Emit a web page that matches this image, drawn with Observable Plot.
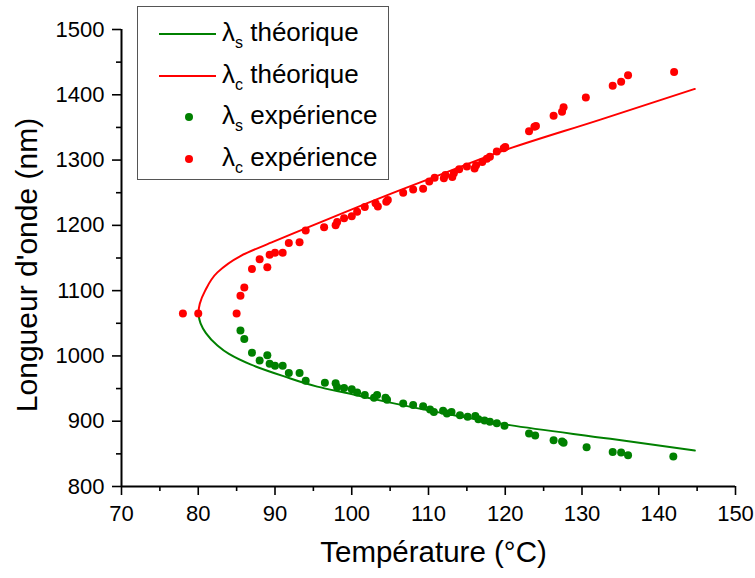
<!DOCTYPE html>
<html><head><meta charset="utf-8">
<script src="https://cdn.jsdelivr.net/npm/d3@7"></script>
<script src="https://cdn.jsdelivr.net/npm/@observablehq/plot@0.6"></script>
<style>
body{margin:0;background:#fff;font-family:"Liberation Sans",Arial,sans-serif;}
#wrap{position:relative;width:755px;height:578px;}
#legend{position:absolute;left:137px;top:6px;width:252px;height:174px;border:1.5px solid #555;background:#fff;box-sizing:border-box;}
.row{position:absolute;left:0;width:250px;height:40px;}
.ln{position:absolute;left:21px;width:57px;top:19px;height:0;border-top:2px solid;}
.dt{position:absolute;left:47px;top:16px;width:8px;height:8px;border-radius:50%;}
.tx{position:absolute;left:84px;top:4px;font-size:26px;line-height:28px;white-space:nowrap;color:#000;}
.tx sub{font-size:16px;vertical-align:-7px;line-height:0;}
</style></head>
<body><div id="wrap"></div>
<script>
// Tick values
const xTicks=[70,80,90,100,110,120,130,140,150];
const xMinorTicks=[75,85,95,105,115,125,135,145];
const yTicks=[800,900,1000,1100,1200,1300,1400,1500];
const yMinorTicks=[850,950,1050,1150,1250,1350,1450];
const xTitle=["Température (°C)"];
const yTitle=["Longueur d'onde (nm)"];

// Theoretical curves, ordered by wavelength
const theoS_T=[144.7,133.7,120.6,112,104.4,99.8,95.5,91.1,86.8,84,82.5,81,80.3,80];
const theoS_L=[855,873,894,912,930,942,953,969,987,1003,1016,1035,1050,1065];
const theoC_T=[80,80.2,80.9,82.5,85.5,89.8,93.5,97.0,106.3,110.3,119.4,132.4,144.7];
const theoC_L=[1065,1080,1100,1128,1153,1175,1193,1210,1254,1272,1313,1362,1409];

// Experimental lambda_s
const expS_T=[85.5,86.0,87.0,88.0,89.0,89.3,90.0,91.0,91.8,93.2,94.0,96.5,97.9,98.1,99.0,100.0,100.7,101.7,102.9,103.3,104.4,104.6,106.7,108.0,109.3,110.2,110.7,111.9,112.4,113.0,114.1,115.1,116.1,116.5,117.3,118.0,118.9,119.9,123.1,123.9,126.3,127.4,127.6,130.6,134.0,135.1,136.0,141.9];
const expS_L=[1039,1026,1005,993,1001,988,985,985,974,974,962,959,958,952,951,949,944,940,936,940,936,933,927,925,923,918,914,916,912,914,909,907,908,903,901,899,897,893,881,878,871,869,867,860,853,852,848,846];

// Experimental lambda_c
const expC_T=[78.0,80.0,85.0,85.5,86.0,87.0,88.0,89.0,89.3,90.0,91.0,91.8,93.2,94.0,96.4,97.9,98.1,99.0,100.0,100.7,101.7,103.1,103.4,104.5,104.7,106.7,108.0,109.3,110.1,110.8,112.0,112.2,113.1,113.3,114.0,115.0,116.0,116.2,117.0,117.6,118.0,118.9,119.8,120.0,123.1,123.8,124.0,126.3,127.4,127.6,130.5,134.0,135.1,136.0,142.0];
const expC_L=[1065,1065,1065,1092,1105,1133,1148,1136,1155,1158,1158,1173,1174,1192,1197,1200,1205,1211,1214,1221,1228,1234,1229,1236,1239,1250,1255,1256,1267,1273,1272,1277,1274,1280,1286,1290,1287,1292,1297,1302,1305,1313,1318,1320,1344,1351,1352,1368,1374,1381,1396,1414,1420,1430,1435];

const toRows=(T,L)=>T.map((t,i)=>({T:t,L:L[i]}));
const theoS=toRows(theoS_T,theoS_L), theoC=toRows(theoC_T,theoC_L);
const expS=toRows(expS_T,expS_L), expC=toRows(expC_T,expC_L);

const green="#008000", red="#ff0000";
const fam="'Liberation Sans',Arial,sans-serif";

const chart=Plot.plot({
  width:755,height:578,
  marginLeft:121,marginRight:20,marginTop:29,marginBottom:92,
  style:{fontFamily:fam,color:"#000",background:"#fff"},
  x:{domain:[70,150]},
  y:{domain:[800,1500]},
  marks:[
    Plot.axisX(xMinorTicks,{tickSize:5,text:null,strokeWidth:1.6,label:null}),
    Plot.axisX(xTicks,{tickSize:9,tickPadding:10,fontSize:22,strokeWidth:1.6,label:null,tickFormat:d3.format("d")}),
    Plot.axisY(yMinorTicks,{tickSize:5,text:null,strokeWidth:1.6,label:null}),
    Plot.axisY(yTicks,{tickSize:9,tickPadding:8,fontSize:22,strokeWidth:1.6,label:null,tickFormat:d3.format("d")}),
    Plot.text(xTitle,{text:d=>d,frameAnchor:"bottom",dy:66,dx:5,fontSize:29.5,lineAnchor:"middle",textAnchor:"middle"}),
    Plot.text(yTitle,{text:d=>d,frameAnchor:"left",rotate:-90,dx:-94,dy:7,fontSize:30,lineAnchor:"middle",textAnchor:"middle",letterSpacing:"1px"}),
    Plot.ruleX([70],{strokeWidth:2}),
    Plot.ruleY([800],{strokeWidth:2}),
    Plot.line(theoS,{x:"T",y:"L",stroke:green,strokeWidth:2,curve:"monotone-y"}),
    Plot.line(theoC,{x:"T",y:"L",stroke:red,strokeWidth:2,curve:"monotone-y"}),
    Plot.dot(expS,{x:"T",y:"L",r:4,fill:green,stroke:null}),
    Plot.dot(expC,{x:"T",y:"L",r:4,fill:red,stroke:null})
  ]
});
const wrap=document.getElementById("wrap");
wrap.appendChild(chart);

const legendItems=[
  {kind:"line",color:green,sub:"s",text:" théorique"},
  {kind:"line",color:red,sub:"c",text:" théorique"},
  {kind:"dot",color:green,sub:"s",text:" expérience"},
  {kind:"dot",color:red,sub:"c",text:" expérience"}
];
const lg=document.createElement("div");lg.id="legend";
legendItems.forEach((it,i)=>{
  const r=document.createElement("div");r.className="row";r.style.top=(7+i*41.7)+"px";
  const s=document.createElement("div");
  if(it.kind==="line"){s.className="ln";s.style.borderColor=it.color;}
  else{s.className="dt";s.style.background=it.color;}
  r.appendChild(s);
  const t=document.createElement("div");t.className="tx";
  t.innerHTML="λ<sub>"+it.sub+"</sub>"+it.text;
  r.appendChild(t);
  lg.appendChild(r);
});
wrap.appendChild(lg);
</script>
</body></html>
